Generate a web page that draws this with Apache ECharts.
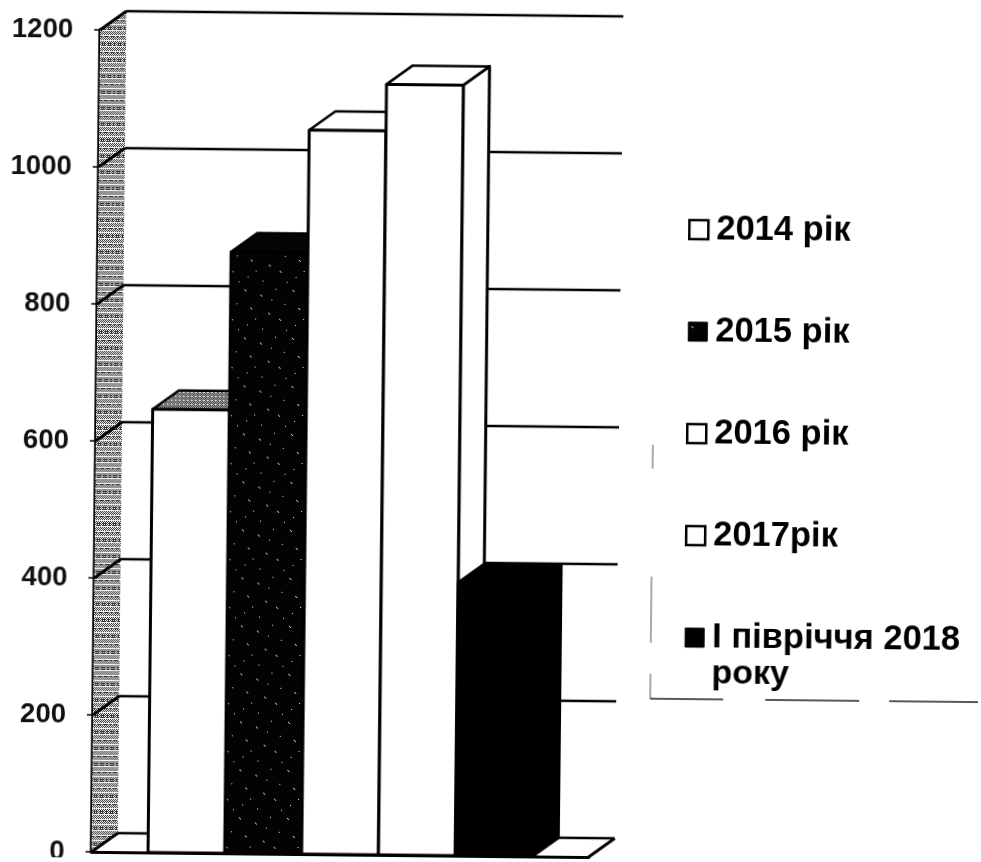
<!DOCTYPE html>
<html>
<head>
<meta charset="utf-8">
<title>chart</title>
<script src="https://cdn.jsdelivr.net/npm/echarts@6/dist/echarts.min.js"></script>
<style>
  html, body { margin: 0; padding: 0; background: #fff; overflow: hidden; }
  /* the source is a slightly crooked scan */
  #chart { width: 981px; height: 862px; transform: rotate(0.6deg); transform-origin: 490px 431px; }
</style>
</head>
<body>
<div id="chart"></div>
<script>
const categories = [''];
const yTicks = [0, 200, 400, 600, 800, 1000, 1200];
const names = ['2014 рік', '2015 рік', '2016 рік', '2017рік', 'І півріччя 2018 року'];
const values2014 = [647];
const values2015 = [878];
const values2016 = [1057];
const values2017 = [1125];
const valuesHalf2018 = [399];

const depthX = 26;
const depthY = -19;
const bandShare = 6.47;
const font = '"Liberation Sans", Arial, sans-serif';

// small dither tiles, drawn pixel by pixel
function tile(size, ink, paper, dots) {
  const c = document.createElement('canvas');
  c.width = c.height = size;
  const ctx = c.getContext('2d');
  ctx.fillStyle = paper;
  ctx.fillRect(0, 0, size, size);
  ctx.fillStyle = ink;
  dots.forEach(d => ctx.fillRect(d[0], d[1], 1, 1));
  return { image: c, repeat: 'repeat' };
}
const wallDots = [];
for (let y = 0; y < 16; y++) {
  for (let x = 0; x < 16; x++) {
    if ((x + y) % 2 === 0 && y % 5 !== 2) wallDots.push([x, y]);
    if (y % 7 === 1 && x % 3 !== 0) wallDots.push([x, y]);
  }
}
const wallFill = tile(16, '#333', '#f4f4f4', wallDots);
const lightFill = tile(4, '#111', '#d8d8d8', [[0, 0], [2, 0], [1, 1], [3, 1], [0, 2], [2, 2], [1, 3]]);
const darkFill = tile(48, '#e8e8e8', '#030303', [
  [3, 4], [19, 9], [34, 3], [43, 18], [9, 22], [27, 27], [38, 33], [6, 39], [21, 43], [45, 44], [14, 33], [30, 14],
  [4, 5], [20, 10], [39, 34], [28, 28], [10, 23]
]);

const fills = [
  { front: '#fff', top: lightFill, side: '#fff' },
  { front: darkFill, top: '#050505', side: '#050505' },
  { front: '#fff', top: '#fff', side: '#fff' },
  { front: '#fff', top: '#fff', side: '#fff' },
  { front: '#000', top: '#000', side: '#000' }
];

function poly(points, fill, lineWidth) {
  return {
    type: 'polygon',
    shape: { points: points },
    style: { fill: fill, stroke: '#000', lineWidth: lineWidth, lineJoin: 'round' }
  };
}

function renderBar(idx) {
  return function (params, api) {
    const base = api.coord([api.value(0), 0]);
    const top = api.coord([api.value(0), api.value(1)]);
    const w = api.size([1, 0])[0] / bandShare;
    const x0 = base[0] + (idx - 2.5) * w;
    const x1 = x0 + w;
    const f = fills[idx];
    return {
      type: 'group',
      children: [
        poly([[x1, top[1]], [x1 + depthX, top[1] + depthY], [x1 + depthX, base[1] + depthY], [x1, base[1]]], f.side, 3),
        poly([[x0, top[1]], [x0 + depthX, top[1] + depthY], [x1 + depthX, top[1] + depthY], [x1, top[1]]], f.top, 2.5),
        poly([[x0, top[1]], [x1, top[1]], [x1, base[1]], [x0, base[1]]], f.front, 3)
      ]
    };
  };
}

function renderWall(params, api) {
  const w = api.size([1, 0])[0];
  const b = api.coord([0, 0]);
  const t = api.coord([0, 1200]);
  const left = b[0] - w / 2;
  return {
    type: 'polygon',
    shape: { points: [[left, b[1]], [left, t[1]], [left + depthX, t[1] + depthY], [left + depthX, b[1] + depthY]] },
    style: { fill: wallFill, stroke: null }
  };
}

function renderGridLine(params, api) {
  const w = api.size([1, 0])[0];
  const p = api.coord([0, api.value(1)]);
  const left = p[0] - w / 2;
  const right = p[0] + w / 2;
  return {
    type: 'group',
    children: [
      { type: 'line', shape: { x1: left, y1: p[1], x2: left + depthX, y2: p[1] + depthY }, style: { stroke: '#000', lineWidth: 3 } },
      { type: 'line', shape: { x1: left + depthX, y1: p[1] + depthY, x2: right + depthX, y2: p[1] + depthY }, style: { stroke: '#000', lineWidth: 2.5 } }
    ]
  };
}

function renderFloor(params, api) {
  const w = api.size([1, 0])[0];
  const p = api.coord([0, 0]);
  const right = p[0] + w / 2;
  return {
    type: 'line',
    shape: { x1: right, y1: p[1], x2: right + depthX, y2: p[1] + depthY },
    style: { stroke: '#000', lineWidth: 3 }
  };
}

const barValues = [values2014, values2015, values2016, values2017, valuesHalf2018];
const legendSwatch = [
  { color: '#fff', borderColor: '#000', borderWidth: 2.5 },
  { color: darkFill, borderColor: '#000', borderWidth: 1 },
  { color: '#fff', borderColor: '#000', borderWidth: 2.5 },
  { color: '#fff', borderColor: '#000', borderWidth: 2.5 },
  { color: '#000', borderColor: '#000', borderWidth: 1 }
];

const chart = echarts.init(document.getElementById('chart'), null, { renderer: 'canvas' });
chart.setOption({
  animation: false,
  backgroundColor: '#fff',
  grid: { left: 96, top: 34, width: 497, height: 822, outerBoundsMode: 'none' },
  xAxis: {
    type: 'category',
    data: categories,
    axisLine: { show: true, onZero: false, lineStyle: { color: '#000', width: 3 } },
    axisTick: { show: false },
    axisLabel: { show: false },
    splitLine: { show: false }
  },
  yAxis: {
    type: 'value',
    min: 0,
    max: 1200,
    interval: 200,
    axisLine: { show: true, lineStyle: { color: '#000', width: 3.5 } },
    axisTick: { show: true, length: 6, lineStyle: { color: '#000', width: 1.5 } },
    axisLabel: { color: '#111', fontFamily: font, fontWeight: 'bold', fontSize: 27.5, margin: 27, formatter: v => String(v) },
    splitLine: { show: false }
  },
  legend: {
    left: 686,
    top: 210,
    padding: 0,
    orient: 'vertical',
    selectedMode: false,
    icon: 'rect',
    itemWidth: 19,
    itemHeight: 19,
    itemGap: 67,
    align: 'left',
    textStyle: { color: '#000', fontFamily: font, fontWeight: 'bold', fontSize: 34.5, lineHeight: 34, padding: [0, 0, 0, 3] },
    formatter: name => name === names[4] ? 'І півріччя 2018' : name,
    data: names.map((n, i) => ({ name: n, itemStyle: legendSwatch[i] }))
  },
  graphic: [
    { type: 'text', left: 714, top: 655, style: { text: 'року', fill: '#000', font: 'bold 34px ' + font } },
    { type: 'line', shape: { x1: 653, y1: 443, x2: 653, y2: 467 }, style: { stroke: '#555', lineWidth: 1 } },
    { type: 'line', shape: { x1: 653, y1: 575, x2: 653, y2: 641 }, style: { stroke: '#555', lineWidth: 1 } },
    { type: 'line', shape: { x1: 653, y1: 672, x2: 653, y2: 697 }, style: { stroke: '#555', lineWidth: 1 } },
    { type: 'line', shape: { x1: 653, y1: 697, x2: 726, y2: 697 }, style: { stroke: '#222', lineWidth: 1.5 } },
    { type: 'line', shape: { x1: 768, y1: 697, x2: 862, y2: 697 }, style: { stroke: '#222', lineWidth: 1.5 } },
    { type: 'line', shape: { x1: 892, y1: 697, x2: 981, y2: 697 }, style: { stroke: '#222', lineWidth: 1.5 } }
  ],
  series: [
    { type: 'custom', name: 'wall', silent: true, clip: false, renderItem: renderWall, data: [[0, 1200]], z: 1 },
    { type: 'custom', name: 'grid', silent: true, clip: false, renderItem: renderGridLine, data: yTicks.map(v => [0, v]), z: 2 },
    { type: 'custom', name: 'floor', silent: true, clip: false, renderItem: renderFloor, data: [[0, 0]], z: 2 }
  ].concat(names.map((n, i) => ({
    type: 'custom',
    name: n,
    silent: true,
    clip: false,
    z: 3,
    itemStyle: { color: '#000' },
    renderItem: renderBar(i),
    data: barValues[i].map(v => [0, v])
  })))
});
</script>
</body>
</html>
